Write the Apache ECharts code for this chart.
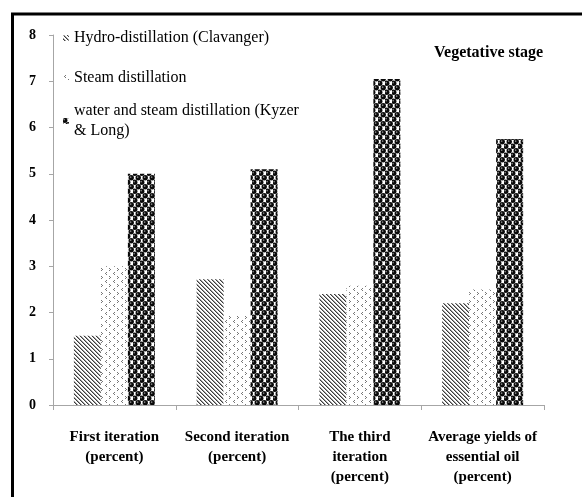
<!DOCTYPE html>
<html>
<head>
<meta charset="utf-8">
<style>
html,body{margin:0;padding:0;background:#fff;}
#chart{width:582px;height:497px;}
</style>
<script src="https://cdn.jsdelivr.net/npm/echarts@6/dist/echarts.min.js"></script>
</head>
<body>
<div id="chart"></div>
<script>
const categories = ['First iteration\n(percent)', 'Second iteration\n(percent)', 'The third\niteration\n(percent)', 'Average yields of\nessential oil\n(percent)'];
const seriesNames = ['Hydro-distillation (Clavanger)', 'Steam distillation', 'water and steam distillation (Kyzer & Long)'];
const hydroValues = [1.5, 2.72, 2.4, 2.2];
const steamValues = [3.0, 1.93, 2.58, 2.5];
const waterValues = [5.0, 5.1, 7.05, 5.75];
const yTicks = [0, 1, 2, 3, 4, 5, 6, 7, 8];
const titleText = 'Vegetative stage';

function makeCanvas(w, h, draw) {
  const c = document.createElement('canvas');
  c.width = w; c.height = h;
  const ctx = c.getContext('2d');
  ctx.fillStyle = '#fff';
  ctx.fillRect(0, 0, w, h);
  draw(ctx);
  return c;
}
const hydroPattern = makeCanvas(4, 4, ctx => {
  ctx.fillStyle = '#3c3c3c';
  for (let i = 0; i < 4; i++) {
    ctx.fillRect(i, i, 1, 1);
  }
  ctx.fillStyle = '#a0a0a0';
  for (let i = 0; i < 4; i++) {
    ctx.fillRect((i + 1) % 4, i, 1, 1);
  }
});
const steamPattern = makeCanvas(8, 8, ctx => {
  ctx.fillStyle = '#777';
  // "<" mark
  ctx.fillRect(2, 0, 1, 1); ctx.fillRect(1, 1, 1, 1); ctx.fillRect(2, 2, 1, 1);
  // ">" mark
  ctx.fillRect(5, 4, 1, 1); ctx.fillRect(6, 5, 1, 1); ctx.fillRect(5, 6, 1, 1);
});
const waterPattern = makeCanvas(7, 9, ctx => {
  const balls = [[1.75, 2.25], [5.25, 6.75], [-1.75, 6.75], [8.75, 6.75], [5.25, -2.25], [1.75, 11.25]];
  balls.forEach(([x, y]) => {
    ctx.fillStyle = '#0a0a0a';
    ctx.beginPath(); ctx.arc(x, y, 2.7, 0, Math.PI * 2); ctx.fill();
    ctx.fillStyle = '#8a8a8a';
    ctx.beginPath(); ctx.arc(x - 0.6, y - 0.6, 0.8, 0, Math.PI * 2); ctx.fill();
  });
});
const patterns = [hydroPattern, steamPattern, waterPattern];
const valuesList = [hydroValues, steamValues, waterValues];

const serif = '"Liberation Serif", "Times New Roman", serif';
const axisGray = '#a6a6a6';

const chart = echarts.init(document.getElementById('chart'), null, {renderer: 'canvas'});
const legendTops = [28, 68, 91];
const legendTexts = ['Hydro-distillation (Clavanger)', 'Steam distillation', 'water and steam distillation (Kyzer\n& Long)'];
chart.setOption({
  animation: false,
  backgroundColor: '#fff',
  title: {
    text: titleText,
    left: 429, top: 40,
    textStyle: {fontFamily: serif, fontSize: 16, fontWeight: 'bold', color: '#000'}
  },
  legend: seriesNames.map((n, i) => ({
    data: [n],
    left: 63,
    top: legendTops[i],
    orient: 'vertical',
    itemWidth: 6,
    itemHeight: 6,
    itemGap: 0,
    padding: 0,
    formatter: () => legendTexts[i],
    textStyle: {
      fontFamily: serif, fontSize: 16, color: '#000', lineHeight: 20,
      padding: i === 2 ? [20, 0, 0, 0] : 0
    },
    selectedMode: false
  })),
  grid: {left: 53, right: 38, top: 35, bottom: 92, containLabel: false},
  xAxis: {
    type: 'category',
    data: categories,
    axisLine: {lineStyle: {color: axisGray, width: 1}},
    axisTick: {show: true, alignWithLabel: false, length: 5, lineStyle: {color: axisGray}},
    axisLabel: {
      interval: 0, margin: 22,
      fontFamily: serif, fontSize: 15, fontWeight: 'bold', color: '#000', lineHeight: 20
    },
    splitLine: {show: false}
  },
  yAxis: {
    type: 'value',
    min: yTicks[0], max: yTicks[yTicks.length - 1], interval: 1,
    axisLine: {show: true, lineStyle: {color: axisGray, width: 1}},
    axisTick: {show: true, length: 4, lineStyle: {color: axisGray}},
    axisLabel: {margin: 17, fontFamily: serif, fontSize: 14, fontWeight: 'bold', color: '#000'},
    splitLine: {show: false}
  },
  series: seriesNames.map((n, i) => ({
    name: n,
    type: 'bar',
    data: valuesList[i],
    barWidth: 27,
    barGap: '0%',
    itemStyle: {color: {image: patterns[i], repeat: 'repeat'}}
  })),
  graphic: [{
    type: 'rect',
    shape: {x: 12.5, y: 14, width: 700, height: 700},
    style: {fill: null, stroke: '#000', lineWidth: 3},
    silent: true
  }]
});
</script>
</body>
</html>
